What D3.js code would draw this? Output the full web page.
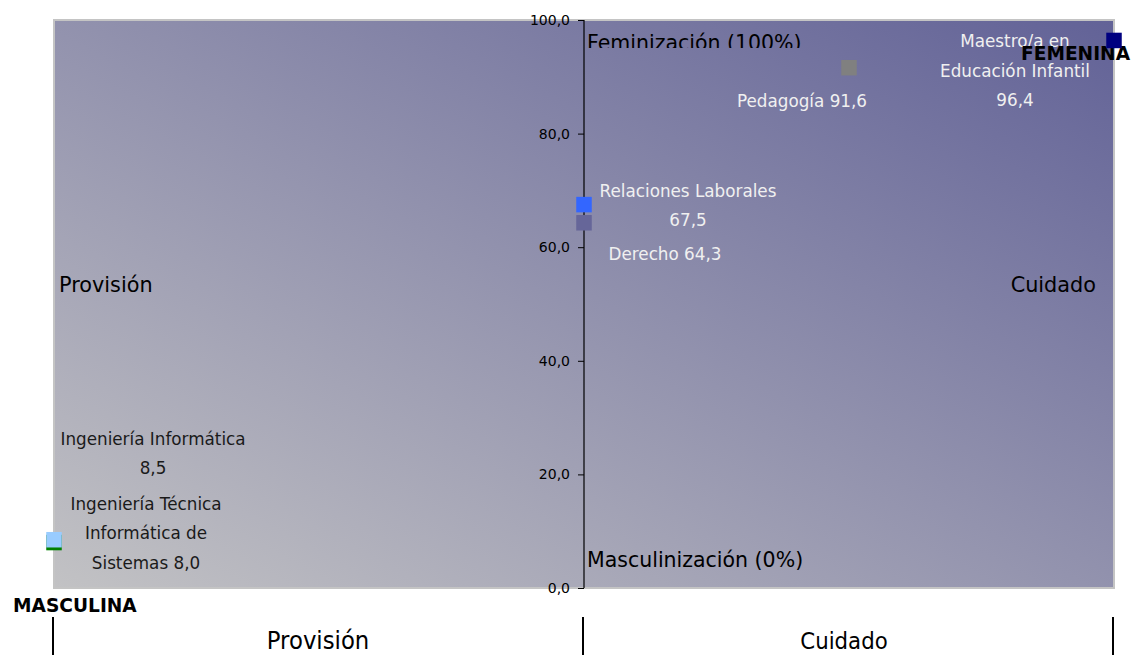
<!DOCTYPE html>
<html>
<head>
<meta charset="utf-8">
<script src="https://cdn.jsdelivr.net/npm/d3@7/dist/d3.min.js"></script>
<style>
  html, body { margin: 0; padding: 0; background: #ffffff; }
  svg { display: block; }
  text { font-family: "DejaVu Sans", Verdana, sans-serif; }
</style>
</head>
<body>
<svg id="chart" width="1138" height="655"></svg>
<script>
// ---------- DATA ----------
const categories = [
  "Ingeniería Técnica Informática de Sistemas",
  "Ingeniería Informática",
  "Derecho",
  "Relaciones Laborales",
  "Pedagogía",
  "Maestro/a en Educación Infantil"
];
// position on the Provisión (-1) ... Cuidado (+1) axis
const axisPosition = [-1, -1, 0, 0, 0.5, 1];
// % of women
const femalePercent = [8.0, 8.5, 64.3, 67.5, 91.6, 96.4];
// label lines (text only)
const labelLines = [
  ["Ingeniería Técnica", "Informática de", "Sistemas {v}"],
  ["Ingeniería Informática", "{v}"],
  ["Derecho {v}"],
  ["Relaciones Laborales", "{v}"],
  ["Pedagogía {v}"],
  ["Maestro/a en", "Educación Infantil", "{v}"]
];
const yTicks = [0, 20, 40, 60, 80, 100];
const sideLabels = ["Provisión", "Cuidado"];
const poleLabels = ["MASCULINA", "FEMENINA"];
const extremeLabels = ["Feminización (100%)", "Masculinización (0%)"];

// ---------- STYLE / LAYOUT ----------
const markerColors = ["#008000", "#99ccff", "#666699", "#3366ff", "#808080", "#000080"];
const labelColors = ["#1a1a1a", "#1a1a1a", "#f0f0f0", "#f0f0f0", "#f0f0f0", "#f0f0f0"];
const labelOffsets = [[92, -33], [99, -95], [81, 37], [104, -8], [-47, 39], [-99, 7]];

const svg = d3.select("#chart");
const plot = { left: 54, right: 1114, top: 20, bottom: 588 };

const x = d3.scaleLinear().domain([-1, 1]).range([plot.left, plot.right]);
const y = d3.scaleLinear().domain([0, 100]).range([plot.bottom, plot.top]);
const fmt = v => d3.format(".1f")(v).replace(".", ",");

// gradient background
const defs = svg.append("defs");
const grad = defs.append("linearGradient").attr("id", "bg")
  .attr("x1", 0).attr("y1", 1).attr("x2", 1).attr("y2", 0);
grad.append("stop").attr("offset", "0%").attr("stop-color", "#c2c2c4");
grad.append("stop").attr("offset", "100%").attr("stop-color", "#626297");

defs.append("clipPath").attr("id", "femClip")
  .append("rect").attr("x", 0).attr("y", 0).attr("width", 1138).attr("height", 48);

svg.append("rect")
  .attr("x", plot.left).attr("y", plot.top)
  .attr("width", plot.right - plot.left).attr("height", plot.bottom - plot.top)
  .attr("fill", "url(#bg)")
  .attr("stroke", "#c4c4c4").attr("stroke-width", 2);

// y axis crossing at x = 0
const yAxis = d3.axisLeft(y).tickValues(yTicks).tickFormat(fmt).tickSize(6).tickPadding(8);
const gAxis = svg.append("g").attr("transform", `translate(${x(0)},0)`).call(yAxis);
gAxis.attr("font-size", 14);
gAxis.select(".domain").attr("stroke", "#000").attr("stroke-width", 1.2).attr("d", `M0,${plot.bottom}V${plot.top}`);
gAxis.selectAll(".tick line").attr("stroke", "#000");
gAxis.selectAll(".tick text").attr("font-size", 14).attr("fill", "#000");

// extreme labels
svg.append("text").attr("x", x(0) + 3).attr("y", 50)
  .attr("clip-path", "url(#femClip)")
  .attr("font-size", 20.5).attr("fill", "#000").text(extremeLabels[0]);
svg.append("text").attr("x", x(0) + 3).attr("y", 567)
  .attr("font-size", 20.5).attr("fill", "#000").text(extremeLabels[1]);

// side labels inside plot
svg.append("text").attr("x", x(-1) + 5).attr("y", 292)
  .attr("font-size", 20.8).attr("fill", "#000").text(sideLabels[0]);
svg.append("text").attr("x", x(1) - 18).attr("y", 292).attr("text-anchor", "end")
  .attr("font-size", 20.8).attr("fill", "#000").text(sideLabels[1]);

// data labels
categories.forEach((c, i) => {
  const mx = x(axisPosition[i]), my = y(femalePercent[i]);
  const t = svg.append("text")
    .attr("x", mx + labelOffsets[i][0]).attr("y", my + labelOffsets[i][1])
    .attr("text-anchor", "middle").attr("font-size", 16.8)
    .attr("fill", labelColors[i]);
  labelLines[i].forEach((line, j) => {
    t.append("tspan").attr("x", mx + labelOffsets[i][0]).attr("dy", j === 0 ? 0 : 29.5)
      .text(line.replace("{v}", fmt(femalePercent[i])));
  });
});

// pole labels
svg.append("text").attr("x", 13).attr("y", 612)
  .attr("font-size", 18.6).attr("font-weight", "bold").attr("fill", "#000").text(poleLabels[0]);
svg.append("text").attr("x", 1021).attr("y", 60)
  .attr("font-size", 18.6).attr("font-weight", "bold").attr("fill", "#000").text(poleLabels[1]);

// markers
const ms = 15.5;
svg.append("g").selectAll("rect").data(categories).join("rect")
  .attr("x", (d, i) => x(axisPosition[i]) - ms / 2)
  .attr("y", (d, i) => y(femalePercent[i]) - ms / 2)
  .attr("width", ms).attr("height", ms)
  .attr("fill", (d, i) => markerColors[i]);

// bottom category band
const band = d3.scaleBand().domain(sideLabels).range([plot.left - 1, plot.right - 1]);
const bottomG = svg.append("g");
[plot.left - 1, band(sideLabels[1]), plot.right - 1].forEach(px => {
  bottomG.append("line").attr("x1", px).attr("x2", px).attr("y1", 617).attr("y2", 655)
    .attr("stroke", "#000").attr("stroke-width", 2);
});
sideLabels.forEach((s, i) => {
  const cx = band(s) + band.bandwidth() / 2 - (i === 1 ? 4 : 0);
  bottomG.append("text")
    .attr("transform", `translate(${cx},649) scale(1,1.12)`)
    .attr("text-anchor", "middle").attr("font-size", i === 0 ? 22.8 : 21.3)
    .attr("fill", "#000").text(s);
});
</script>
</body>
</html>
